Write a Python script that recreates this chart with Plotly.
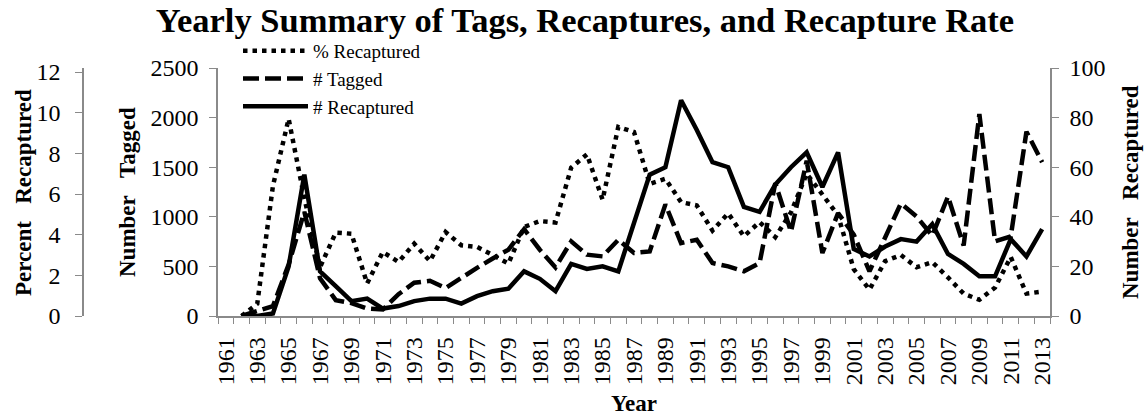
import plotly.graph_objects as go

years = list(range(1961, 2014))

pct_recaptured = [None, 0, 0.6, 6.4, 9.7, 5.8, 2.4, 4.1, 4.05, 1.6,
                  3.15, 2.66, 3.56, 2.7, 4.13, 3.48, 3.4, 3.0, 2.58, 4.38,
                  4.67, 4.6, 7.3, 7.95, 5.72, 9.3, 9.05, 6.5, 6.75, 5.6,
                  5.44, 4.2, 5.05, 3.92, 4.62, 3.88, 5.1, 7.0, 5.95, 4.95,
                  2.3, 1.3, 2.7, 3.0, 2.4, 2.65, 1.9, 1.1, 0.8, 1.4,
                  2.9, 1.1, 1.2]

num_tagged = [None, 0, 50, 100, 520, 1050, 380, 160, 130, 75,
              65, 220, 335, 355, 282, 390, 485, 580, 668, 876,
              668, 490, 752, 618, 601, 769, 635, 651, 1125, 735,
              769, 534, 500, 450, 534, 1339, 850, 1565, 635, 1037,
              820, 450, 802, 1135, 1003, 810, 1204, 710, 2035, 752,
              802, 1858, 1550]

num_recaptured = [None, 0, 0, 1, 20, 57, 18, 12, 6, 7,
                  3, 4, 6, 7, 7, 5, 8, 10, 11, 18,
                  15, 10, 21, 19, 20, 18, 38, 57, 60, 87,
                  75, 62, 60, 44, 42, 53, 60, 66, 52, 66,
                  27, 24, 28, 31, 30, 37, 25, 21, 16, 16,
                  31, 24, 35]

label_years = years[::2]

FONT = "Liberation Serif"
AXC = "#8a8a8a"

fig = go.Figure()
fig.add_trace(go.Scatter(x=years, y=pct_recaptured, name="% Recaptured",
                         mode="lines", yaxis="y3",
                         line=dict(color="black", width=4.5, dash="4.5px,5px")))
fig.add_trace(go.Scatter(x=years, y=num_tagged, name="# Tagged",
                         mode="lines", yaxis="y",
                         line=dict(color="black", width=4.5, dash="16px,6px")))
fig.add_trace(go.Scatter(x=years, y=num_recaptured, name="# Recaptured",
                         mode="lines", yaxis="y2",
                         line=dict(color="black", width=4.5)))

L, R, T, B = 60, 60, 68, 100
W, H = 1148, 416
pw = W - L - R
ph = H - T - B

def px(x):
    return (x - L) / pw

def py(y):
    return (H - B - y) / ph

tick_font = dict(family=FONT, size=24, color="black")

fig.update_layout(
    width=W, height=H,
    margin=dict(l=L, r=R, t=T, b=B),
    paper_bgcolor="white", plot_bgcolor="white",
    font=dict(family=FONT, color="black"),
    hovermode=False,
    title=dict(text="<b>Yearly Summary of Tags, Recaptures, and Recapture Rate</b>",
               font=dict(family=FONT, size=34.5, color="black"),
               xref="container", x=585 / W, xanchor="center",
               yref="container", y=1 - 20 / H, yanchor="middle"),
    showlegend=True,
    legend=dict(x=px(238), y=py(32), xanchor="left", yanchor="top",
                bgcolor="rgba(0,0,0,0)", font=dict(family=FONT, size=19, color="black"),
                itemwidth=65, tracegroupgap=0),
    xaxis=dict(domain=[px(218), px(1050)], range=[1960.5, 2013.5],
               tickmode="array", tickvals=label_years,
               ticktext=[str(y) for y in label_years],
               tickangle=-90, ticks="", tickfont=tick_font,
               ticklabelstandoff=10,
               showline=True, linecolor=AXC, linewidth=1.5,
               showgrid=False, zeroline=False,
               minor=dict(tickmode="array",
                          tickvals=[y - 0.5 for y in years] + [years[-1] + 0.5],
                          ticks="outside", ticklen=6, tickcolor=AXC, tickwidth=1.2,
                          showgrid=False)),
    yaxis=dict(range=[0, 2500], tickvals=[0, 500, 1000, 1500, 2000, 2500],
               ticks="outside", ticklen=7, tickcolor=AXC, tickwidth=1.2,
               tickfont=tick_font, ticklabelstandoff=6,
               showline=True, linecolor=AXC, linewidth=1.5,
               showgrid=False, zeroline=False),
    yaxis2=dict(range=[0, 100], tickvals=[0, 20, 40, 60, 80, 100],
                overlaying="y", side="right", anchor="x",
                ticks="outside", ticklen=7, tickcolor=AXC, tickwidth=1.2,
                tickfont=tick_font, ticklabelstandoff=6,
                showline=True, linecolor=AXC, linewidth=1.5,
                showgrid=False, zeroline=False),
    yaxis3=dict(range=[0, 12.2], tickvals=[0, 2, 4, 6, 8, 10, 12],
                overlaying="y", side="left", anchor="free", position=px(83),
                ticks="outside", ticklen=7, tickcolor=AXC, tickwidth=1.2,
                tickfont=tick_font, ticklabelstandoff=10,
                showline=True, linecolor=AXC, linewidth=1.5,
                showgrid=False, zeroline=False),
)

NB = "\u00a0"
title_font = dict(family=FONT, size=23, color="black")
annots = [
    (f"<b>Percent{NB*3}Recaptured</b>", 23, 193, -90),
    (f"<b>Number{NB*3}Tagged</b>", 127, 192, -90),
    (f"<b>Number{NB*3}Recaptured</b>", 1130, 192, -90),
    ("<b>Year</b>", 634, 403, 0),
]
for text, ax_, ay_, ang in annots:
    fig.add_annotation(text=text, xref="paper", yref="paper",
                       x=px(ax_), y=py(ay_), xanchor="center", yanchor="middle",
                       textangle=ang, showarrow=False, font=title_font)

fig.write_html("out.html",
               config={"displayModeBar": False},
               post_script="document.body.style.margin='0';document.body.style.overflow='hidden';")
